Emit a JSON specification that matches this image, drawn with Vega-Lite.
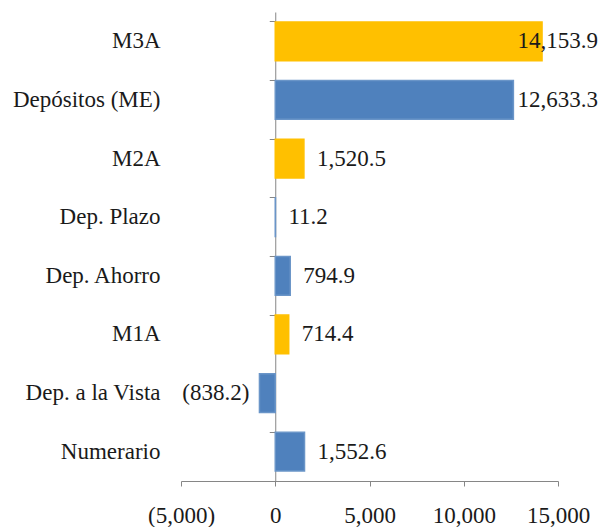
{
  "$schema": "https://vega.github.io/schema/vega-lite/v6.json",
  "width": 377,
  "height": 469,
  "autosize": {"type": "none"},
  "padding": {"left": 181, "top": 12, "right": 44, "bottom": 46},
  "background": "white",
  "config": {
    "view": {"stroke": null},
    "font": "'Liberation Serif', 'Times New Roman', serif",
    "text": {"font": "'Liberation Serif', 'Times New Roman', serif"},
    "axis": {
      "labelFont": "'Liberation Serif', 'Times New Roman', serif",
      "labelFontSize": 23,
      "labelColor": "#1a1a1a",
      "domainColor": "#868686",
      "tickColor": "#868686",
      "grid": false,
      "title": null
    }
  },
  "data": {
    "values": [
      {"categoria": "M3A", "valor": 14153.9, "tipo": "Agregado"},
      {"categoria": "Depósitos (ME)", "valor": 12633.3, "tipo": "Componente"},
      {"categoria": "M2A", "valor": 1520.5, "tipo": "Agregado"},
      {"categoria": "Dep. Plazo", "valor": 11.2, "tipo": "Componente"},
      {"categoria": "Dep. Ahorro", "valor": 794.9, "tipo": "Componente"},
      {"categoria": "M1A", "valor": 714.4, "tipo": "Agregado"},
      {"categoria": "Dep. a la Vista", "valor": -838.2, "tipo": "Componente"},
      {"categoria": "Numerario", "valor": 1552.6, "tipo": "Componente"}
    ]
  },
  "layer": [
    {
      "mark": {"type": "bar", "strokeWidth": 1.5},
      "encoding": {
        "x": {
          "field": "valor", "type": "quantitative",
          "scale": {"domain": [-5000, 15000], "nice": false, "zero": false},
          "axis": {"values": [-5000, 0, 5000, 10000, 15000], "format": "(,.0f", "tickSize": 5, "labelPadding": 18, "labelFlush": false}
        },
        "y": {
          "field": "categoria", "type": "nominal", "sort": null,
          "scale": {"paddingInner": 0.34, "paddingOuter": 0.17},
          "axis": {"domain": false, "ticks": false, "labelPadding": 21}
        },
        "color": {
          "field": "tipo", "type": "nominal",
          "scale": {"domain": ["Agregado", "Componente"], "range": ["#FFC000", "#4F81BD"]},
          "legend": null
        },
        "stroke": {
          "field": "tipo", "type": "nominal",
          "scale": {"domain": ["Agregado", "Componente"], "range": ["#FFC000", "#6A95C8"]},
          "legend": null
        }
      }
    },
    {
      "transform": [{"filter": "datum.valor >= 0 && datum.valor < 12000"}],
      "mark": {"type": "text", "align": "left", "baseline": "middle", "dx": 13, "fontSize": 23, "color": "#1a1a1a"},
      "encoding": {
        "x": {"field": "valor", "type": "quantitative"},
        "y": {
          "field": "categoria", "type": "nominal", "sort": null,
          "axis": {"orient": "left", "offset": -94.25, "labels": false, "ticks": true, "bandPosition": 0, "tickSize": 6, "domain": true}
        },
        "text": {"field": "valor", "type": "quantitative", "format": ",.1f"}
      }
    },
    {
      "transform": [{"filter": "datum.valor >= 12000"}],
      "mark": {"type": "text", "align": "right", "baseline": "middle", "dx": 40, "fontSize": 23, "color": "#1a1a1a"},
      "encoding": {
        "x": {"datum": 15000, "type": "quantitative"},
        "y": {"field": "categoria", "type": "nominal", "sort": null, "axis": null},
        "text": {"field": "valor", "type": "quantitative", "format": ",.1f"}
      }
    },
    {
      "transform": [{"filter": "datum.valor < 0"}],
      "mark": {"type": "text", "align": "right", "baseline": "middle", "dx": -10, "fontSize": 23, "color": "#1a1a1a"},
      "encoding": {
        "x": {"field": "valor", "type": "quantitative"},
        "y": {"field": "categoria", "type": "nominal", "sort": null, "axis": null},
        "text": {"field": "valor", "type": "quantitative", "format": "(,.1f"}
      }
    }
  ],
  "resolve": {"axis": {"y": "independent"}}
}
